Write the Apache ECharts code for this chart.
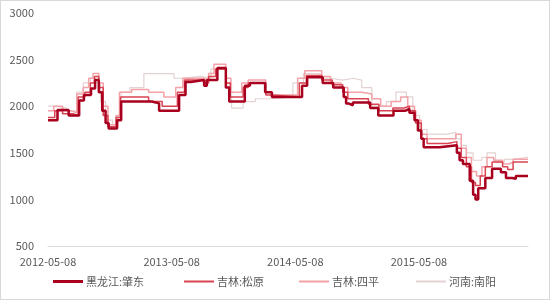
<!DOCTYPE html>
<html><head><meta charset="utf-8">
<script src="https://cdn.jsdelivr.net/npm/echarts@6/dist/echarts.min.js"></script>
<style>html,body{margin:0;padding:0;background:#fff}#c{width:548px;height:298px;border:1px solid #d9d9d9}</style>
</head><body><div id="c"></div>
<script>
const seriesNames = ['黑龙江:肇东','吉林:松原','吉林:四平','河南:南阳'];
const xTickLabels = ['2012-05-08','2013-05-08','2014-05-08','2015-05-08'];
const startDate = '2012-05-08';

const zhaodongDates = ['2012-05-08','2012-06-05','2012-07-08','2012-08-08','2012-08-22','2012-09-12','2012-09-24','2012-10-05','2012-10-15','2012-10-25','2012-11-03','2012-11-28','2012-12-10','2013-03-10','2013-04-01','2013-05-30','2013-06-18','2013-07-03','2013-08-12','2013-08-20','2013-09-20','2013-10-15','2013-10-25','2013-12-10','2013-12-25','2014-02-08','2014-02-28','2014-05-28','2014-06-12','2014-07-28','2014-08-28','2014-09-28','2014-10-05','2014-10-12','2014-10-25','2014-12-15','2015-01-08','2015-02-22','2015-03-28','2015-04-10','2015-04-25','2015-05-05','2015-05-15','2015-05-22','2015-07-08','2015-08-28','2015-09-05','2015-09-15','2015-10-05','2015-10-15','2015-10-22','2015-10-30','2015-11-20','2015-12-10','2016-01-05','2016-01-20','2016-02-08','2016-02-18','2016-03-25'];
const zhaodongValues = [1850,1960,1900,2060,2120,2190,2280,2150,1950,1820,1760,1850,2050,2030,1950,2120,2260,2280,2220,2280,2410,2200,2050,2220,2250,2150,2100,2220,2310,2250,2200,2100,2030,2010,2040,1980,1900,1950,1970,1930,1850,1740,1650,1560,1580,1500,1420,1380,1200,1050,1000,1120,1230,1330,1290,1230,1220,1250,1250];

const songyuanDates = ['2012-05-08','2012-05-28','2012-06-20','2012-07-20','2012-08-05','2012-08-25','2012-09-10','2012-09-22','2012-10-05','2012-10-18','2012-11-01','2012-11-25','2012-12-08','2013-01-15','2013-03-01','2013-04-10','2013-05-25','2013-06-15','2013-08-10','2013-08-25','2013-09-15','2013-10-15','2013-10-28','2013-12-05','2013-12-20','2014-02-10','2014-03-01','2014-05-20','2014-06-10','2014-07-25','2014-08-25','2014-09-25','2014-10-10','2014-11-01','2014-12-10','2015-01-10','2015-02-20','2015-03-25','2015-04-10','2015-04-28','2015-05-15','2015-06-01','2015-08-01','2015-08-28','2015-09-10','2015-09-25','2015-10-10','2015-10-22','2015-11-05','2015-11-20','2015-12-10','2016-01-10','2016-01-25','2016-02-10','2016-03-25'];
const songyuanValues = [1880,1950,1920,1900,2100,2150,2250,2320,2200,1900,1780,1880,2100,2100,2050,2000,2150,2280,2250,2320,2400,2250,2100,2200,2250,2120,2100,2250,2330,2280,2230,2150,2080,2080,2020,1950,1980,2000,1950,1820,1650,1600,1620,1550,1450,1350,1180,1150,1250,1350,1400,1350,1320,1400,1400];

const sipingDates = ['2012-05-08','2012-05-25','2012-06-20','2012-07-15','2012-08-01','2012-08-20','2012-09-05','2012-09-18','2012-10-05','2012-10-18','2012-11-01','2012-11-25','2012-12-05','2013-01-10','2013-03-01','2013-04-15','2013-05-20','2013-06-10','2013-08-10','2013-08-25','2013-09-10','2013-10-15','2013-10-30','2013-12-01','2013-12-20','2014-02-10','2014-03-01','2014-05-15','2014-06-05','2014-07-25','2014-08-20','2014-09-20','2014-10-10','2014-11-20','2014-12-20','2015-01-15','2015-02-15','2015-03-15','2015-04-05','2015-04-25','2015-05-15','2015-06-01','2015-08-01','2015-08-25','2015-09-10','2015-09-25','2015-10-10','2015-10-25','2015-11-10','2015-11-25','2015-12-15','2016-01-10','2016-01-28','2016-02-10','2016-03-25'];
const sipingValues = [1950,2000,1950,1930,2130,2200,2300,2350,2250,2000,1800,1900,2150,2180,2150,2100,2200,2300,2280,2350,2450,2300,2150,2250,2280,2150,2120,2300,2380,2320,2250,2200,2150,2130,2080,2000,2050,2100,2000,1850,1700,1650,1650,1700,1550,1450,1300,1250,1350,1450,1420,1380,1400,1430,1430];

const nanyangDates = ['2012-05-08','2012-06-01','2012-07-01','2012-08-01','2012-08-20','2012-09-10','2012-09-25','2012-10-10','2012-10-25','2012-11-15','2012-12-01','2012-12-10','2013-01-05','2013-02-15','2013-05-15','2013-06-10','2013-08-01','2013-09-01','2013-10-15','2013-11-01','2013-12-05','2014-01-10','2014-03-01','2014-05-01','2014-06-01','2014-07-20','2014-08-20','2014-09-25','2014-10-25','2014-11-20','2014-12-20','2015-02-01','2015-03-01','2015-04-01','2015-04-20','2015-05-10','2015-06-01','2015-08-01','2015-08-25','2015-09-10','2015-09-25','2015-10-15','2015-11-10','2015-11-25','2015-12-20','2016-01-15','2016-02-10','2016-03-25'];
const nanyangValues = [2000,1980,1950,2150,2250,2300,2250,2050,1850,1800,1900,2150,2200,2350,2300,2320,2300,2400,2250,1980,2050,2080,2100,2250,2350,2300,2280,2300,2280,2200,2000,2050,2150,2100,1900,1750,1700,1720,1650,1580,1500,1420,1450,1500,1400,1430,1450,1450];

const DAY = 86400000;
const t0 = Date.parse(startDate + 'T00:00:00Z');
function toDays(d){ return Math.round((Date.parse(d + 'T00:00:00Z') - t0) / DAY); }
function pairs(dates, vals){ return dates.map((d,i)=>[toDays(d), vals[i]]); }

const colors = ['#A8001E','#D94452','#F3A2A8','#E3D2D2'];
const widths = [2.5,1.5,1.5,1.2];
const legendLeft = [52,183,298,415];
const legendH = [3,2,2,2];
const datasets = [[zhaodongDates,zhaodongValues],[songyuanDates,songyuanValues],[sipingDates,sipingValues],[nanyangDates,nanyangValues]];

const chart = echarts.init(document.getElementById('c'));
chart.setOption({
  animation:false,
  textStyle:{fontFamily:'"Noto Sans CJK SC","Noto Sans",sans-serif'},
  grid:{left:47,right:21,top:12,bottom:53},
  xAxis:{type:'value',min:0,max:toDays('2016-03-25'),interval:365,
    axisLine:{show:true,lineStyle:{color:'#d9d9d9'}},axisTick:{show:false},splitLine:{show:false},
    axisLabel:{color:'#595959',fontSize:11,margin:10,showMaxLabel:false,
      formatter:v=>{const i=Math.round(v/365); return (v%365===0 && xTickLabels[i])?xTickLabels[i]:'';}}},
  yAxis:{type:'value',min:500,max:3000,interval:500,
    axisLine:{show:false},axisTick:{show:false},splitLine:{show:false},
    axisLabel:{color:'#595959',fontSize:11,margin:14,formatter:v=>String(v)}},
  legend:seriesNames.map((n,i)=>({
    bottom:12,left:legendLeft[i],padding:0,itemWidth:30,itemHeight:legendH[i],itemGap:4,icon:'rect',
    textStyle:{color:'#595959',fontSize:11,padding:[0,0,0,-2]},data:[n]})),
  series:datasets.map((ds,i)=>({
    name:seriesNames[i],type:'line',step:'end',symbol:'none',z:10-i,
    data:pairs(ds[0],ds[1]),
    lineStyle:{color:colors[i],width:widths[i]},itemStyle:{color:colors[i]}
  }))
});
</script></body></html>
